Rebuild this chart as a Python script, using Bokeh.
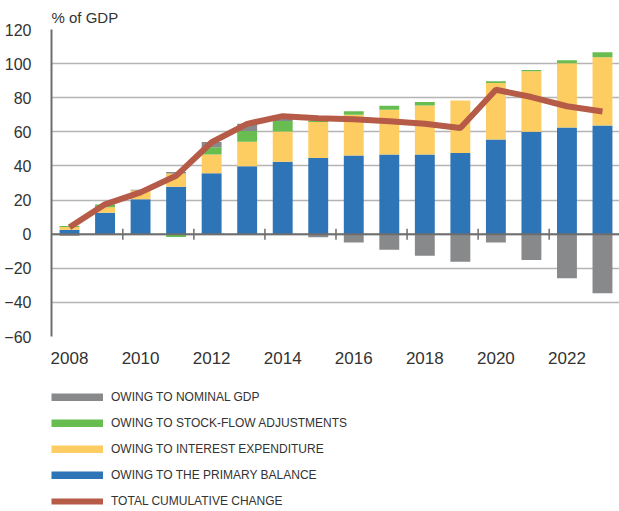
import numpy as np
from bokeh.plotting import figure
from bokeh.layouts import column
from bokeh.models import Range1d, FixedTicker, Span, Legend, LegendItem
from bokeh.embed import file_html
from bokeh.resources import INLINE

# ---- data (% of GDP, cumulative change since 2007) ----
years = list(range(2008, 2024))
primary_balance = [2.6, 12.6, 20.4, 27.8, 35.7, 39.8, 42.4, 44.6, 46.1, 46.7, 46.7, 47.6, 55.5, 60.0, 62.5, 63.7]
interest_expenditure = [1.6, 3.2, 5.2, 7.8, 11.0, 14.4, 17.8, 21.2, 23.9, 26.3, 28.8, 30.8, 33.1, 35.5, 37.7, 40.0]
stock_flow = [0.6, 1.6, -0.5, -1.6, 4.3, 6.3, 6.2, 0.8, 2.0, 2.3, 2.0, 0.0, 1.0, 0.8, 1.8, 3.0]
nominal_gdp = [-1.0, 0.0, 0.4, 0.8, 3.1, 4.3, 1.5, -1.8, -4.9, -9.2, -12.7, -16.2, -4.9, -15.1, -25.8, -34.6]
total_change = [4.0, 17.5, 24.5, 34.2, 53.9, 64.7, 69.2, 68.0, 67.4, 66.2, 64.7, 62.2, 84.7, 80.4, 75.0, 71.9]
y_ticks = [-60, -40, -20, 0, 20, 40, 60, 80, 100, 120]
x_label_years = years[::2]

series = [
    ("OWING TO THE PRIMARY BALANCE", primary_balance, "#2e75b7"),
    ("OWING TO INTEREST EXPENDITURE", interest_expenditure, "#fecd62"),
    ("OWING TO STOCK-FLOW ADJUSTMENTS", stock_flow, "#67bd50"),
    ("OWING TO NOMINAL GDP", nominal_gdp, "#88898b"),
]
line_name = "TOTAL CUMULATIVE CHANGE"
line_color = "#b55b47"
legend_order = ["OWING TO NOMINAL GDP", "OWING TO STOCK-FLOW ADJUSTMENTS",
                "OWING TO INTEREST EXPENDITURE", "OWING TO THE PRIMARY BALANCE"]

TEXT = "#333333"
AXIS = "#6e6e6e"
FONT = "Liberation Sans"

# ---------------- main chart ----------------
p = figure(width=619, height=371, output_backend="svg", toolbar_location=None,
           x_range=Range1d(years[0] - 0.507, years[-1] + 0.479),
           y_range=Range1d(y_ticks[0], y_ticks[-1]),
           min_border_left=51, min_border_top=29, min_border_right=0,
           min_border_bottom=35)
p.outline_line_color = None
p.title.text = "% of GDP"
p.title.align = "left"
p.title.text_font = FONT
p.title.text_font_size = "15px"
p.title.text_font_style = "normal"
p.title.text_color = TEXT
p.title.standoff = 8

p.yaxis.ticker = FixedTicker(ticks=y_ticks)
p.yaxis.axis_line_color = AXIS
p.yaxis.axis_line_width = 2
p.yaxis.major_tick_line_color = None
p.yaxis.minor_tick_line_color = None
p.yaxis.major_label_standoff = 14
p.yaxis.major_label_text_font_size = "16px"
p.yaxis.major_label_text_color = TEXT
p.yaxis.major_label_text_font = FONT

p.xaxis.ticker = FixedTicker(ticks=x_label_years)
p.xaxis.axis_line_color = None
p.xaxis.major_tick_line_color = None
p.xaxis.minor_tick_line_color = None
p.xaxis.major_label_standoff = 9
p.xaxis.major_label_text_font_size = "17px"
p.xaxis.major_label_text_color = TEXT
p.xaxis.major_label_text_font = FONT

p.xgrid.grid_line_color = None
p.ygrid.grid_line_color = "#b4b4b4"
p.ygrid.grid_line_width = 1.5

# stacked bars (positives stack upward, negatives downward)
pos = np.zeros(len(years))
neg = np.zeros(len(years))
for name, vals, color in series:
    v = np.array(vals, dtype=float)
    bottom = np.where(v >= 0, pos, neg)
    top = bottom + v
    pos = np.where(v >= 0, top, pos)
    neg = np.where(v < 0, top, neg)
    p.vbar(x=years, bottom=bottom, top=top, width=0.56,
           fill_color=color, line_color=None)

# zero line with category-boundary ticks
p.add_layout(Span(location=0, dimension="width", line_color=AXIS, line_width=2))
boundaries = [y + 0.5 for y in years[1:-1:2]]
p.scatter(x=boundaries, y=[0] * len(boundaries), marker="dash", angle=np.pi / 2,
          size=11, line_color=AXIS, line_width=1.5)

# total cumulative change line
p.line(x=years, y=total_change, line_color=line_color, line_width=6)

# ---------------- legend panel ----------------
lg = figure(width=619, height=140, output_backend="svg", toolbar_location=None,
            x_range=Range1d(0, 1), y_range=Range1d(0, 1),
            x_axis_location=None, y_axis_location=None,
            min_border=0)
lg.outline_line_color = None
lg.grid.grid_line_color = None
colors = {name: color for name, _, color in series}
items = []
for n in legend_order:
    # proxy renderer (NaN point, never visible) to carry the legend swatch
    r = lg.line(x=[np.nan], y=[np.nan], line_color=colors[n], line_width=8)
    items.append(LegendItem(label=n, renderers=[r]))
r_line = lg.line(x=[np.nan], y=[np.nan], line_color=line_color, line_width=6)
items.append(LegendItem(label=line_name, renderers=[r_line]))
legend = Legend(items=items, location=(0, 0), orientation="vertical",
                glyph_width=52, glyph_height=8, label_standoff=8, spacing=6,
                label_height=20, padding=0, margin=0,
                label_text_font=FONT, label_text_font_size="12px",
                label_text_color=TEXT, border_line_color=None,
                background_fill_alpha=0)
lg.add_layout(legend)

layout = column(p, lg, spacing=0)
open("out.html", "w").write(file_html(layout, INLINE))
